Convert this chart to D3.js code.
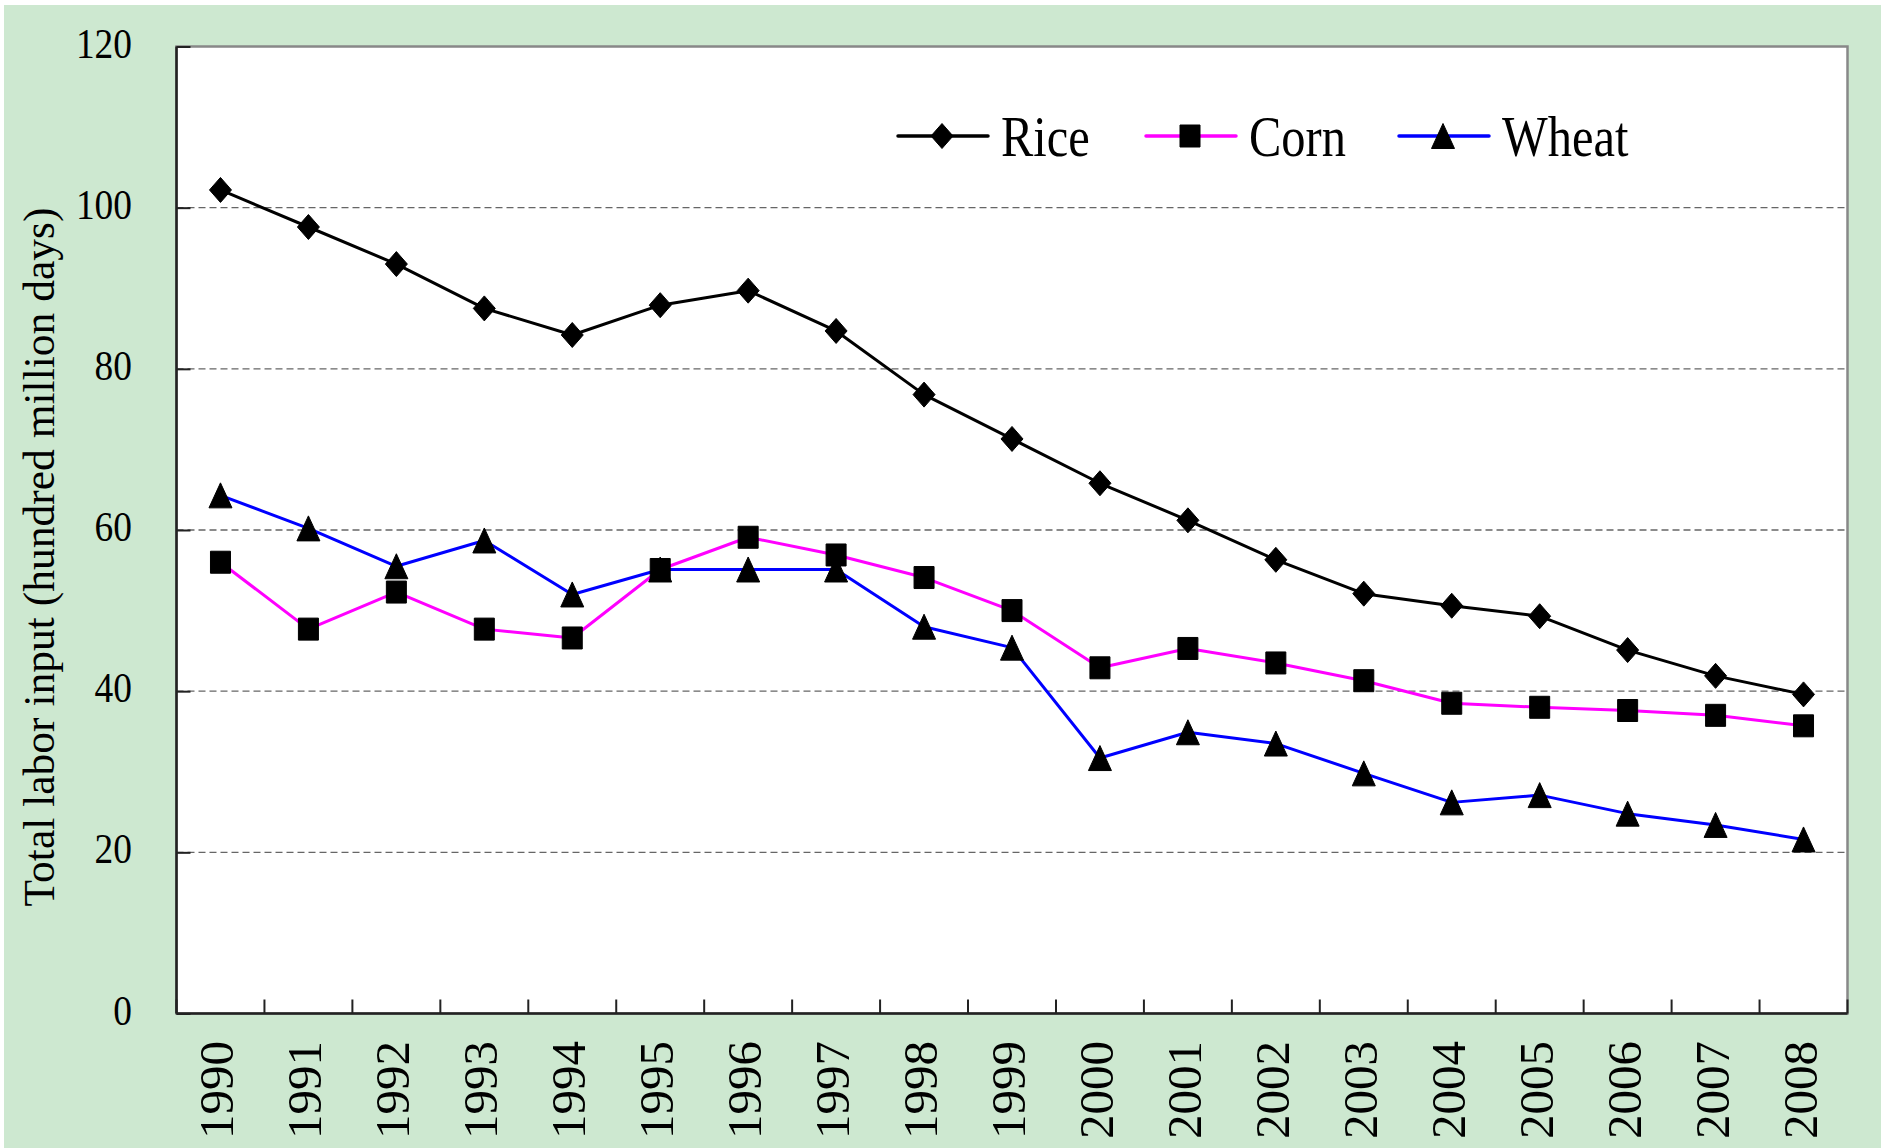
<!DOCTYPE html>
<html lang="en">
<head>
    <meta charset="UTF-8">
    <title>Total labor input</title>
    <script src="https://d3js.org/d3.v7.min.js"></script>
    <style>
        body {
            margin: 0;
            background-color: #fff;
        }
        svg text {
            font-family: "Liberation Serif", "Times New Roman", serif;
            fill: #000;
        }
    </style>
</head>
<body>
    <svg id="chart" width="1881" height="1148"></svg>
    <script>
        const years = ["1990", "1991", "1992", "1993", "1994", "1995", "1996", "1997", "1998", "1999",
                       "2000", "2001", "2002", "2003", "2004", "2005", "2006", "2007", "2008"];
        const rice  = [102.2, 97.6, 93.0, 87.5, 84.2, 87.9, 89.7, 84.7, 76.8, 71.3,
                       65.8, 61.2, 56.3, 52.1, 50.6, 49.3, 45.1, 41.9, 39.6];
        const corn  = [56.0, 47.7, 52.3, 47.7, 46.6, 55.1, 59.1, 56.9, 54.1, 50.0,
                       42.9, 45.3, 43.5, 41.3, 38.5, 38.0, 37.6, 37.0, 35.7];
        const wheat = [64.3, 60.2, 55.5, 58.7, 52.0, 55.1, 55.1, 55.1, 48.0, 45.4,
                       31.7, 34.9, 33.5, 29.8, 26.2, 27.1, 24.8, 23.4, 21.6];
        const yTicks = [0, 20, 40, 60, 80, 100, 120];
        const seriesNames = ["Rice", "Corn", "Wheat"];

        const series = [
            { name: seriesNames[0], values: rice,  color: "#000000", shape: "diamond" },
            { name: seriesNames[1], values: corn,  color: "#ff00ff", shape: "square" },
            { name: seriesNames[2], values: wheat, color: "#0000ff", shape: "triangle" }
        ];

        const svg = d3.select("#chart");
        const plotL = 176.5, plotR = 1847.5, plotT = 46.5, plotB = 1013.5;

        // green backdrop
        svg.append("rect")
            .attr("x", 4).attr("y", 5)
            .attr("width", 1877).attr("height", 1143)
            .attr("fill", "#cde8d0");

        svg.append("rect")
            .attr("x", plotL).attr("y", plotT)
            .attr("width", plotR - plotL).attr("height", plotB - plotT)
            .attr("fill", "#fff")
            .attr("stroke", "#888")
            .attr("stroke-width", 2.5);

        const x = d3.scaleBand().domain(years).range([plotL, plotR]);
        const y = d3.scaleLinear().domain([0, 120]).range([plotB, plotT]);

        // dashed gridlines
        svg.append("g")
            .selectAll("line")
            .data(yTicks.filter(d => d > 0 && d < 120))
            .join("line")
            .attr("x1", plotL).attr("x2", plotR)
            .attr("y1", d => y(d)).attr("y2", d => y(d))
            .attr("stroke", "#666")
            .attr("stroke-width", 1.4)
            .attr("stroke-dasharray", "7,4");

        // y axis (inner ticks)
        const yAxis = svg.append("g")
            .attr("transform", `translate(${plotL},0)`)
            .call(d3.axisRight(y).tickValues(yTicks).tickSize(14).tickFormat(""));
        yAxis.select(".domain").remove();
        yAxis.selectAll(".tick line").attr("stroke", "#222").attr("stroke-width", 2);

        svg.append("g")
            .selectAll("text")
            .data(yTicks)
            .join("text")
            .attr("transform", d => `translate(132,${y(d) + 11}) scale(0.87,1)`)
            .attr("text-anchor", "end")
            .attr("font-size", 43)
            .text(d => d);

        // x axis: ticks between categories, pointing up
        const bounds = years.map(d => x(d)).concat([plotR]);
        svg.append("g")
            .selectAll("line")
            .data(bounds)
            .join("line")
            .attr("x1", d => d).attr("x2", d => d)
            .attr("y1", plotB).attr("y2", plotB - 14)
            .attr("stroke", "#222")
            .attr("stroke-width", 2);

        svg.append("g")
            .selectAll("text")
            .data(years)
            .join("text")
            .attr("transform", d => `translate(${x(d) + x.bandwidth() / 2 + 13},1041) rotate(-90)`)
            .attr("text-anchor", "end")
            .attr("font-size", 49)
            .text(d => d);

        // axis lines
        svg.append("line")
            .attr("x1", plotL).attr("x2", plotL).attr("y1", plotT).attr("y2", plotB)
            .attr("stroke", "#222").attr("stroke-width", 2.5);
        svg.append("line")
            .attr("x1", plotL).attr("x2", plotR).attr("y1", plotB).attr("y2", plotB)
            .attr("stroke", "#222").attr("stroke-width", 2.5);

        svg.append("text")
            .attr("transform", "translate(54,557) rotate(-90)")
            .attr("text-anchor", "middle")
            .attr("font-size", 43.5)
            .text("Total labor input (hundred million days)");

        // marker shapes
        function markerPath(shape) {
            if (shape === "diamond") return "M0,-12.5L11,0L0,12.5L-11,0Z";
            if (shape === "square") return "M-10,-11H10V11H-10Z";
            return "M0,-12.5L11.5,12.5L-11.5,12.5Z";
        }

        const line = d3.line()
            .x((d, i) => x(years[i]) + x.bandwidth() / 2)
            .y(d => y(d));

        series.forEach(s => {
            svg.append("path")
                .datum(s.values)
                .attr("fill", "none")
                .attr("stroke", s.color)
                .attr("stroke-width", 3)
                .attr("stroke-linejoin", "round")
                .attr("d", line);
        });

        series.forEach(s => {
            svg.append("g")
                .selectAll("path")
                .data(s.values)
                .join("path")
                .attr("transform", (d, i) => `translate(${x(years[i]) + x.bandwidth() / 2},${y(d)})`)
                .attr("d", markerPath(s.shape))
                .attr("fill", "#000")
                .attr("stroke", "#000")
                .attr("stroke-width", 1)
                .attr("stroke-linejoin", "round");
        });

        // legend
        const legendX = [898, 1146, 1399];
        const legend = svg.append("g")
            .selectAll("g")
            .data(series)
            .join("g")
            .attr("transform", (d, i) => `translate(${legendX[i]},136)`);
        legend.append("line")
            .attr("x1", 0).attr("x2", 90)
            .attr("stroke", d => d.color)
            .attr("stroke-width", 3.5)
            .attr("stroke-linecap", "round");
        legend.append("path")
            .attr("transform", "translate(44,0)")
            .attr("d", d => markerPath(d.shape))
            .attr("fill", "#000")
            .attr("stroke", "#000")
            .attr("stroke-width", 1)
            .attr("stroke-linejoin", "round");
        legend.append("text")
            .attr("transform", "translate(103,20) scale(0.85,1)")
            .attr("font-size", 57)
            .text(d => d.name);
    </script>
</body>
</html>
